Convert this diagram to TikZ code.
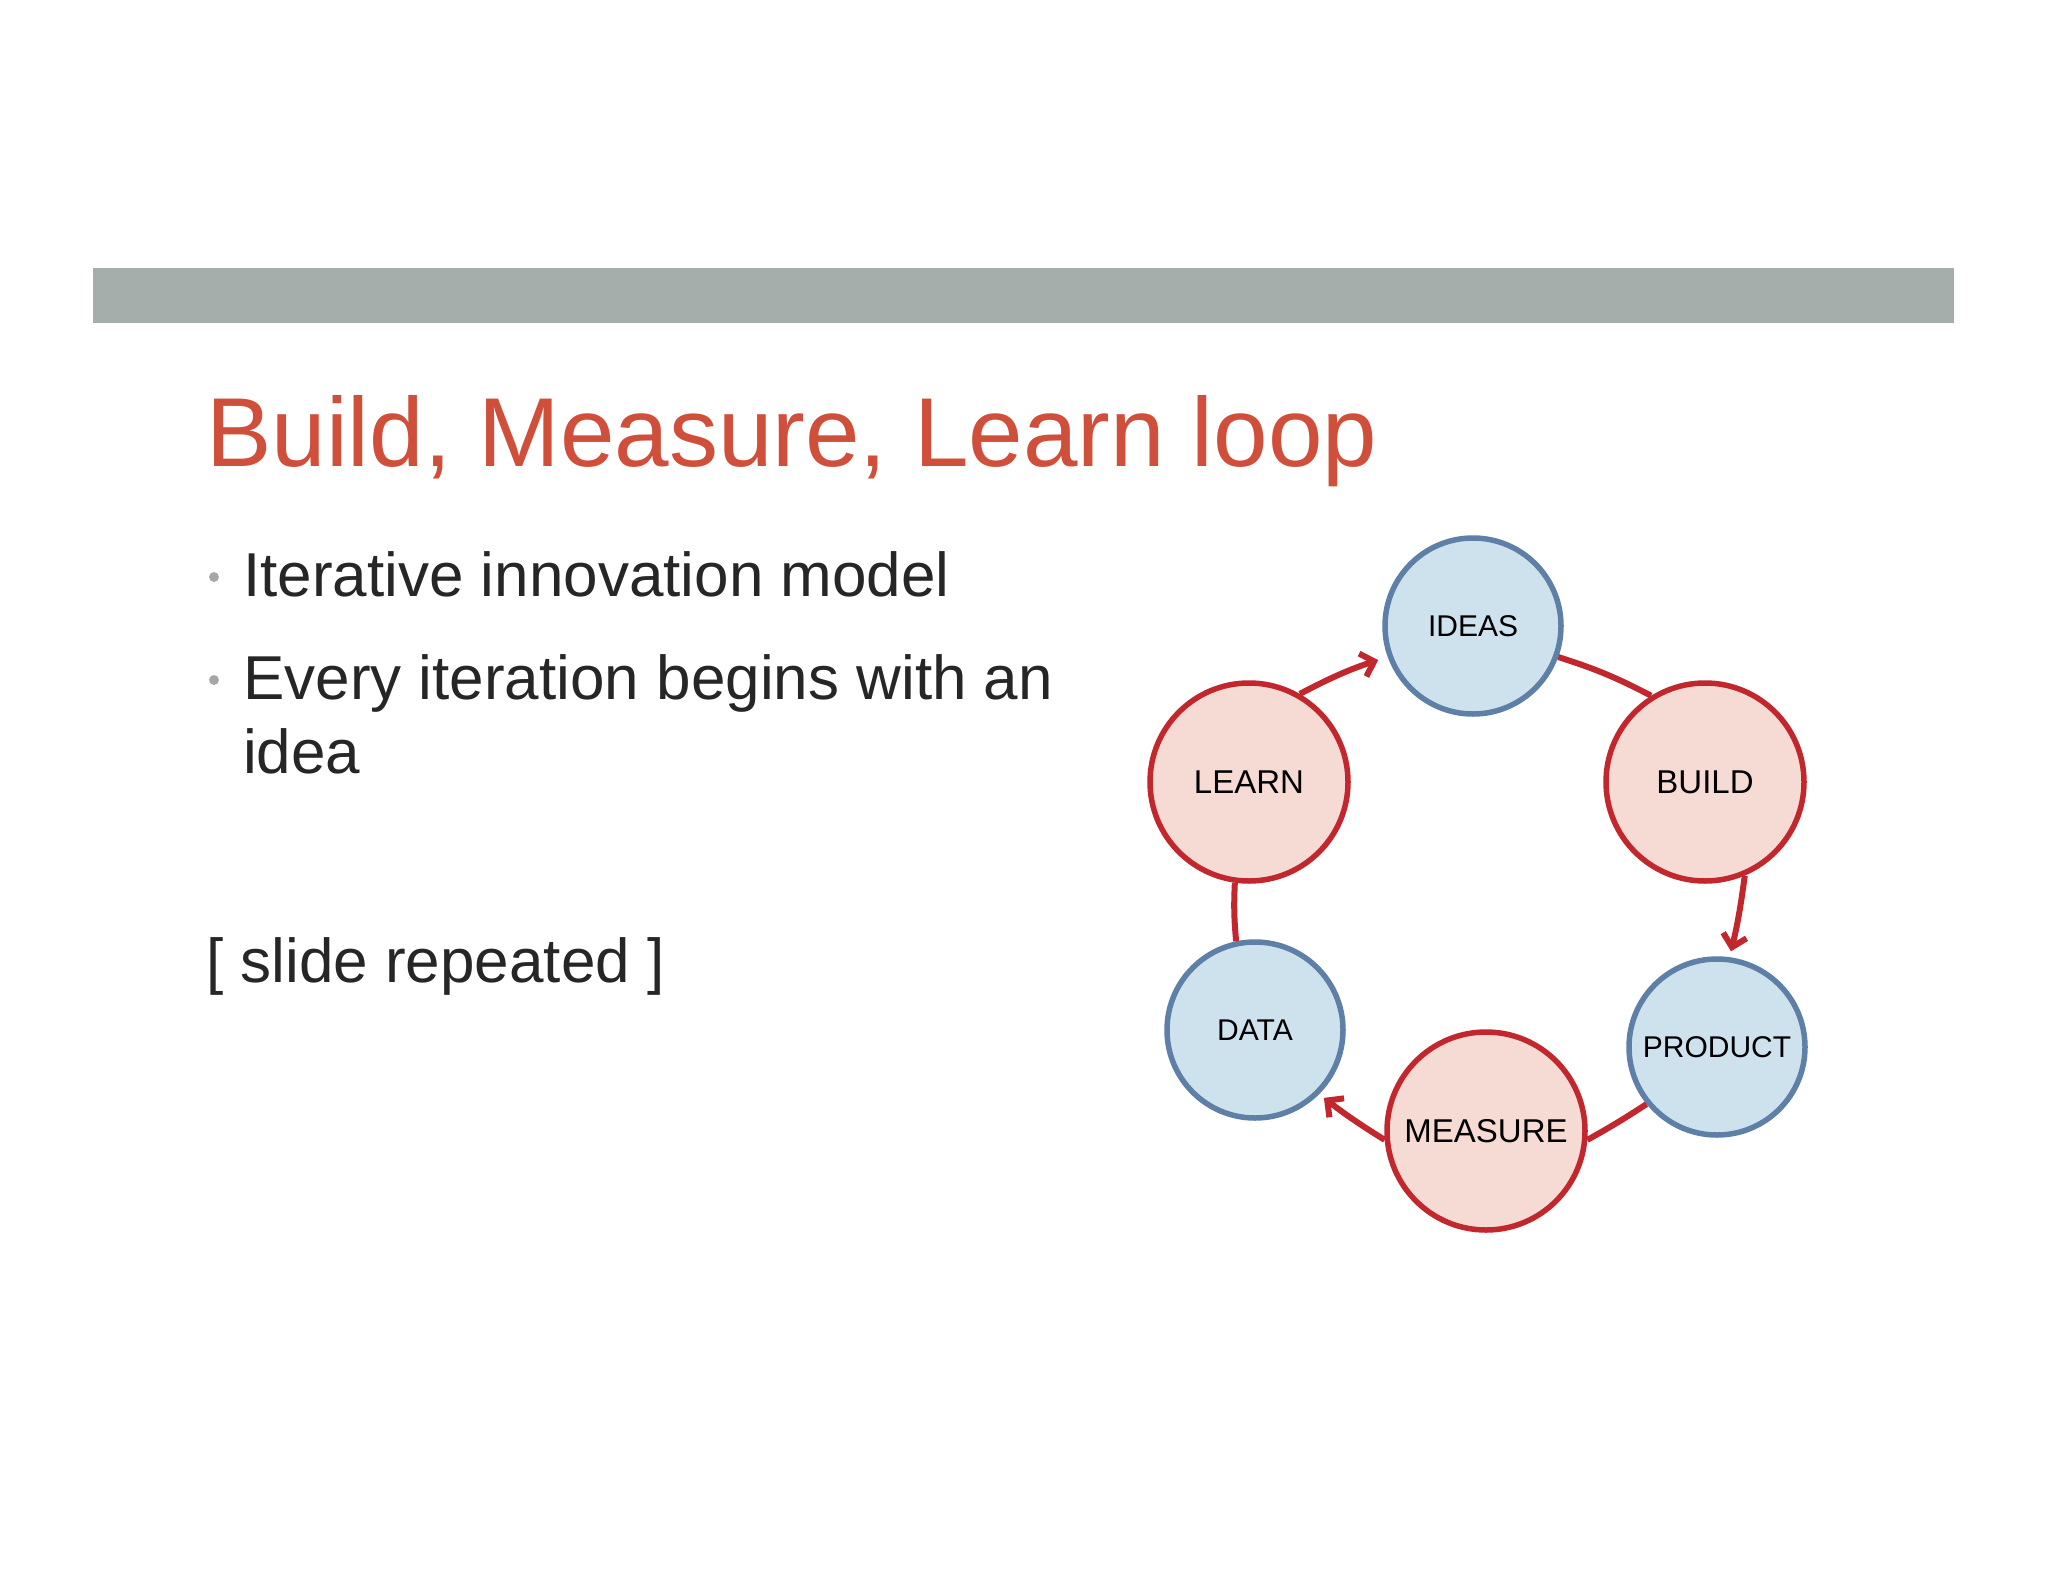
\documentclass[tikz,border=0pt]{standalone}
\usepackage{fontspec}
\setmainfont{Liberation Sans}
\usetikzlibrary{arrows.meta}
\definecolor{barg}{HTML}{A5AEAA}
\definecolor{titler}{HTML}{CF4F3A}
\definecolor{rb}{HTML}{C1272D}
\definecolor{rf}{HTML}{F6DAD4}
\definecolor{bb}{HTML}{5E80A6}
\definecolor{bf}{HTML}{CEE2EE}
\definecolor{txt}{HTML}{262626}
\tikzset{
 redc/.style={circle,draw=rb,fill=rf,line width=5.5pt,minimum size=198pt,inner sep=0pt,font=\fontsize{33}{36}\selectfont},
 bluec/.style={circle,draw=bb,fill=bf,line width=5.5pt,minimum size=176pt,inner sep=0pt,font=\fontsize{30}{34}\selectfont},
 conn/.style={draw=rb,line width=6pt},
 arr/.style={conn,-{Straight Barb[length=12pt,width=24pt,line width=6pt]},shorten >=10pt},
 body/.style={anchor=base west,inner sep=0pt,text=txt,font=\fontsize{62}{70}\selectfont},
}
\begin{document}
\begin{tikzpicture}[x=1pt,y=-1pt]
\useasboundingbox (0,0) rectangle (2048,1582);
\fill[white] (0,0) rectangle (2048,1582);
\fill[barg] (93,268) rectangle (1954,323);
\node[anchor=base west,inner sep=0pt,text=titler,font=\fontsize{98}{106}\selectfont] (title) at (206,466) {Build, Measure, Learn loop};
\node[circle,fill=gray!70,inner sep=3.5pt] (d1) at (214,577) {};
\node[circle,fill=gray!70,inner sep=3.5pt] (d2) at (214,680) {};
\node[body] (b1) at (243,596) {Iterative innovation model};
\node[body] (b2) at (243,699) {Every iteration begins with an};
\node[body] (b3) at (243,773) {idea};
\node[body] (sr) at (206,982) {[ slide repeated ]};
\node[bluec] (ideas) at (1473,626) {IDEAS};
\node[redc] (build) at (1705,782) {BUILD};
\node[bluec] (product) at (1717,1047) {PRODUCT};
\node[redc] (measure) at (1486,1131) {MEASURE};
\node[bluec] (data) at (1255,1030) {DATA};
\node[redc] (learn) at (1249,782) {LEARN};
\draw[arr] (learn.60) to[bend left=5] (ideas.200);
\draw[conn] (ideas.-20) to[bend left=5] (build.122);
\draw[arr,shorten >=6pt] (build.-67) to[bend left=3] (product.82);
\draw[conn] (product.-141) to[bend left=2] (measure.-5);
\draw[arr,shorten >=6pt] (measure.185) to[bend left=3] (data.-45);
\draw[conn] (data.102) to[bend left=4] (learn.-98);
\end{tikzpicture}
\end{document}
